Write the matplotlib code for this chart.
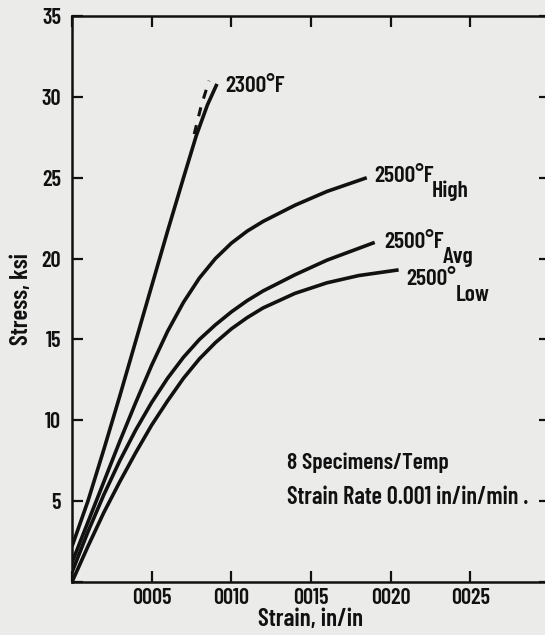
# Stress-strain curves, 2300 / 2500 F -----------------------------------

# Libraries
import numpy as np
import matplotlib.pyplot as plt


# Data (strain in in/in, stress in ksi) ---
strain_2300 = [0, 0.0001, 0.0002, 0.0003, 0.0004, 0.0005, 0.0006,
               0.0007, 0.00078, 0.00085, 0.00091]
stress_2300 = [2.2, 5.0, 8.2, 11.5, 14.9, 18.3, 21.7,
               25.0, 27.6, 29.5, 30.8]

# scatter band drawn dashed next to the 2300 F curve
strain_2300_band = [0.000767, 0.00081, 0.00086]
stress_2300_band = [27.7, 29.4, 31.0]

strain_high = [0, 0.0001, 0.0002, 0.0003, 0.0004, 0.0005, 0.0006,
               0.0007, 0.0008, 0.0009, 0.0010, 0.0011, 0.0012, 0.0014,
               0.0016, 0.00185]
stress_high = [1.2, 3.7, 6.2, 8.7, 11.1, 13.4, 15.5,
               17.3, 18.8, 20.0, 20.95, 21.7, 22.3, 23.3,
               24.15, 25.0]

strain_avg = [0, 0.0001, 0.0002, 0.0003, 0.0004, 0.0005, 0.0006,
              0.0007, 0.0008, 0.0009, 0.0010, 0.0011, 0.0012, 0.0014,
              0.0016, 0.0019]
stress_avg = [0.6, 3.1, 5.4, 7.5, 9.4, 11.1, 12.6,
              13.9, 15.0, 15.9, 16.7, 17.4, 18.0, 19.0,
              19.9, 21.0]

strain_low = [0, 0.0001, 0.0002, 0.0003, 0.0004, 0.0005, 0.0006,
              0.0007, 0.0008, 0.0009, 0.0010, 0.0011, 0.0012, 0.0014,
              0.0016, 0.0018, 0.00205]
stress_low = [0.0, 2.2, 4.3, 6.2, 8.0, 9.7, 11.2,
              12.6, 13.8, 14.8, 15.65, 16.35, 16.95, 17.85,
              18.5, 18.95, 19.3]

y_ticks = [0, 5, 10, 15, 20, 25, 30, 35]
y_ticklabels = ["", "5", "10", "15", "20", "25", "30", "35"]
x_ticks = [0, 0.0005, 0.0010, 0.0015, 0.0020, 0.0025, 0.0030]
x_ticklabels = ["", "0005", "0010", "0015", "0020", "0025", ""]


# RC Params
plt.rcParams["font.family"] = ["Barlow Condensed", "DejaVu Sans"]
plt.rcParams["font.weight"] = 600
plt.rcParams["axes.labelweight"] = 600

ink = "#111111"
paper = "#ebebea"

# Plot
fig = plt.figure(figsize=[5.45, 6.35], dpi=100, facecolor=paper)
ax = fig.add_axes([0.1321, 0.0835, 0.877, 0.8913])
ax.set_facecolor(paper)

lw = 2.6
for xs, ys in [(strain_2300, stress_2300), (strain_high, stress_high),
               (strain_avg, stress_avg), (strain_low, stress_low)]:
    ax.plot(xs, ys, color=ink, lw=lw, solid_capstyle="butt",
            solid_joinstyle="round")

ax.plot(strain_2300_band, stress_2300_band, color=ink, lw=2.2,
        linestyle=(0, (3, 3)))

ax.set_xlim(0, 0.0030)
ax.set_ylim(0, 35)

ax.set_xticks(x_ticks)
ax.set_xticklabels(x_ticklabels, fontsize=16)
ax.set_yticks(y_ticks)
ax.set_yticklabels(y_ticklabels, fontsize=16)

ax.tick_params(axis="both", direction="in", top=True, right=True,
               length=8, width=1.6, color=ink, labelcolor=ink)
ax.tick_params(axis="y", pad=8)
ax.tick_params(axis="x", pad=4)

for side in ax.spines.values():
    side.set_linewidth(1.8)
    side.set_color(ink)

ax.set_xlabel("Strain, in/in", fontsize=18, color=ink, labelpad=0)
ax.set_ylabel("Stress, ksi", fontsize=18, color=ink, labelpad=6)

# Curve labels
tsize = 17
ax.text(0.00096, 30.7, "2300°F", fontsize=tsize, color=ink, va="center")
ax.text(0.00190, 25.1, "2500°F", fontsize=tsize, color=ink, va="center")
ax.text(0.00226, 24.2, "High", fontsize=tsize, color=ink, va="center")
ax.text(0.00196, 21.0, "2500°F", fontsize=tsize, color=ink, va="center")
ax.text(0.00233, 20.1, "Avg", fontsize=tsize, color=ink, va="center")
ax.text(0.00210, 18.75, "2500°", fontsize=tsize, color=ink, va="center")
ax.text(0.00241, 17.75, "Low", fontsize=tsize, color=ink, va="center")

# Test notes
ax.text(0.00135, 7.4, "8 Specimens/Temp", fontsize=17, color=ink,
        va="center")
ax.text(0.00135, 5.25, "Strain Rate 0.001 in/in/min .", fontsize=17.5,
        color=ink, va="center")

fig.savefig("out.png", dpi=100, facecolor=paper)
plt.close(fig)
